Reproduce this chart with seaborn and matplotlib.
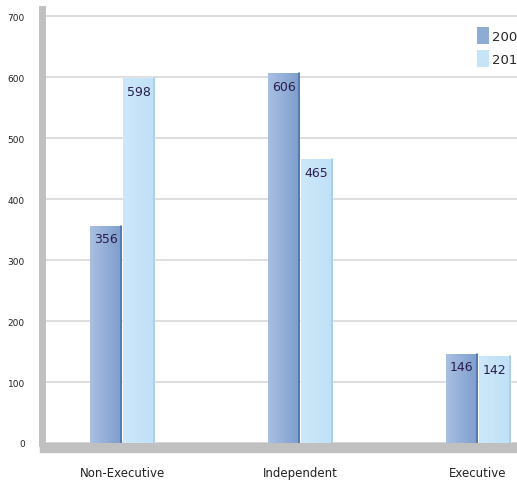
import matplotlib.pyplot as plt
import matplotlib.patches as mpatches
from matplotlib.colors import LinearSegmentedColormap
import numpy as np
import pandas as pd
import seaborn as sns

# chart data
categories = ['Non-Executive', 'Independent', 'Executive']
years = ['2009', '2010']
values_2009 = [356, 606, 146]
values_2010 = [598, 465, 142]
y_ticks = [0, 100, 200, 300, 400, 500, 600, 700]

df = pd.DataFrame({
    'category': categories * 2,
    'year': [years[0]] * 3 + [years[1]] * 3,
    'value': values_2009 + values_2010,
})

sns.set_style('white')
plt.rcParams['font.family'] = ['Liberation Sans Narrow', 'DejaVu Sans']

fig = plt.figure(figsize=(5.17, 4.85), dpi=100)
# axes runs past the right edge of the figure, like the cropped original
ax = fig.add_axes([45 / 517, 41 / 485, 515 / 517, 436 / 485])

palette = {'2009': '#93afd8', '2010': '#c6e4f8'}
sns.barplot(data=df, x='category', y='value', hue='year', order=categories,
            hue_order=years, palette=palette, width=0.37, gap=0.04,
            saturation=1, ax=ax, legend=False, zorder=3)

xlim = (-0.433, -0.433 + 515 / 178)
ax.set_yticks(y_ticks)
ax.yaxis.grid(True, color='#d8d8d8', linewidth=1.2, zorder=0)
ax.set_axisbelow(True)

for s in ['top', 'right']:
    ax.spines[s].set_visible(False)
ax.spines['left'].set_color('#c0c0c1')
ax.spines['left'].set_linewidth(5)
ax.spines['left'].set_position(('outward', 2.5))
ax.spines['left'].set_bounds(0, 712)
ax.spines['bottom'].set_color('#c0c0c1')
ax.spines['bottom'].set_linewidth(7.5)
ax.spines['bottom'].set_position(('outward', 3.8))

ax.tick_params(axis='both', length=0)
ax.tick_params(axis='y', labelsize=6.5, pad=12, labelcolor='#222222')
ax.tick_params(axis='x', labelsize=8.5, pad=13, labelcolor='#222222')
ax.set_xlabel('')
ax.set_ylabel('')

# gradient fill per bar, clipped to the bar shape
grads = {
    0: (LinearSegmentedColormap.from_list('g0', ['#a9bfe2', '#7d9dcc']), '#4a74ae'),
    1: (LinearSegmentedColormap.from_list('g1', ['#cde8fa', '#bfe0f6']), '#a6cdea'),
}
grad = np.linspace(0, 1, 64).reshape(1, -1)
for i, cont in enumerate(ax.containers):
    cmap, edge = grads[i]
    for bar, val in zip(cont, cont.datavalues):
        x0, y0 = bar.get_x(), bar.get_y()
        w, h = bar.get_width(), bar.get_height()
        im = ax.imshow(grad, cmap=cmap, aspect='auto', extent=[x0, x0 + w, y0, y0 + h],
                       zorder=4, interpolation='bicubic')
        im.set_clip_path(bar)
        ax.plot([x0 + w, x0 + w], [y0, y0 + h], color=edge, linewidth=1.2, zorder=5)
        ax.annotate(f'{int(val)}', (x0 + w / 2, y0 + h), xytext=(0, -4.5),
                    textcoords='offset points', ha='center', va='top',
                    fontsize=9, color='#2a1c4c', zorder=6)
ax.set_xlim(*xlim)
ax.set_ylim(0, 715)

handles = [mpatches.Patch(facecolor='#8eabd6', edgecolor='none'),
           mpatches.Patch(facecolor='#c6e4f8', edgecolor='none')]
fig.legend(handles, years, loc='upper left', bbox_to_anchor=(472 / 517, 1 - 23 / 485),
           frameon=False, fontsize=9.5, handlelength=0.9, handleheight=1.6,
           handletextpad=0.25, labelspacing=0.45, borderaxespad=0)

fig.savefig('out.png', dpi=100)
